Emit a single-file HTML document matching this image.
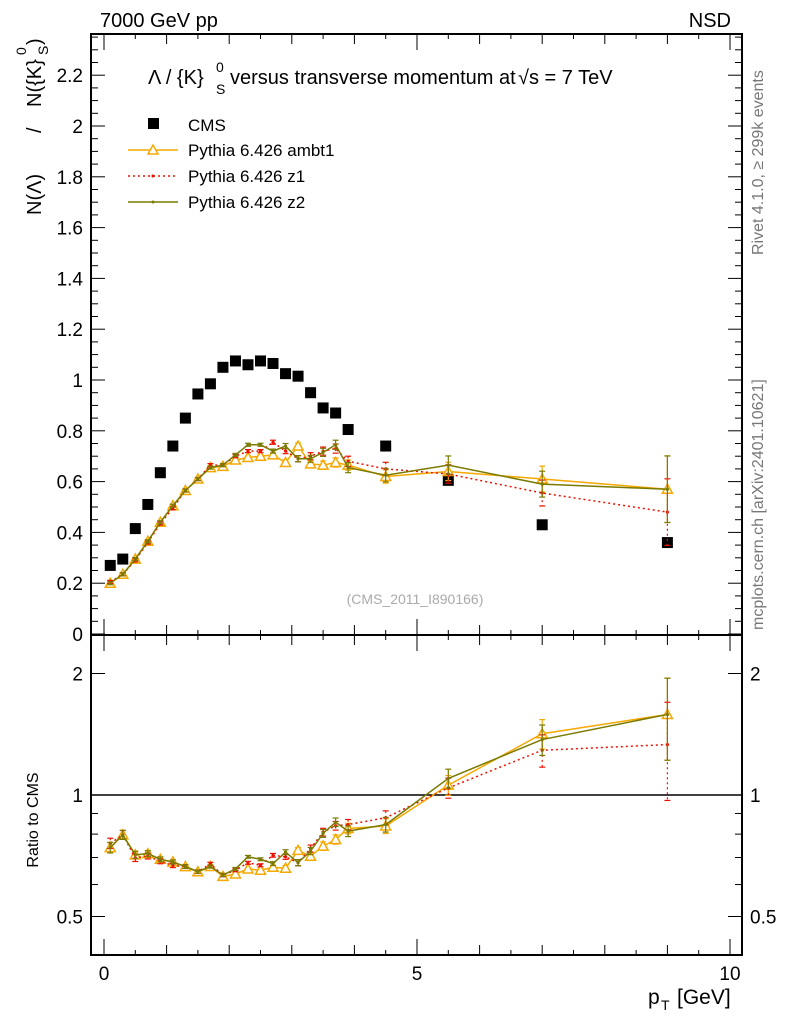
<!DOCTYPE html>
<html><head><meta charset="utf-8"><style>
body{margin:0;background:#fff;}
svg{display:block;font-family:"Liberation Sans",sans-serif;}
</style></head><body>
<svg id="c" width="786" height="1024" xmlns="http://www.w3.org/2000/svg"></svg>
<script>
const pt=[0.1,0.3,0.5,0.7,0.9,1.1,1.3,1.5,1.7,1.9,2.1,2.3,2.5,2.7,2.9,3.1,3.3,3.5,3.7,3.9,4.5,5.5,7.0,9.0];
const cms=[0.27,0.295,0.415,0.51,0.635,0.74,0.85,0.945,0.985,1.05,1.075,1.06,1.075,1.065,1.025,1.015,0.95,0.89,0.87,0.805,0.74,0.605,0.43,0.36];
const ambt1=[0.2,0.235,0.295,0.365,0.44,0.505,0.565,0.61,0.655,0.66,0.685,0.695,0.7,0.705,0.675,0.74,0.67,0.665,0.675,0.665,0.62,0.64,0.61,0.57];
const z1=[0.205,0.235,0.29,0.36,0.435,0.495,0.565,0.61,0.665,0.665,0.7,0.72,0.72,0.755,0.72,0.69,0.7,0.72,0.73,0.68,0.65,0.63,0.555,0.48];
const z2=[0.2,0.235,0.295,0.365,0.44,0.505,0.565,0.61,0.655,0.665,0.705,0.745,0.745,0.72,0.74,0.69,0.69,0.715,0.745,0.655,0.625,0.665,0.59,0.57];
const yTicks=[0,0.2,0.4,0.6,0.8,1,1.2,1.4,1.6,1.8,2,2.2];
const yTickLabels=["0","0.2","0.4","0.6","0.8","1","1.2","1.4","1.6","1.8","2","2.2"];
const xTicks=[0,5,10];
const rTicks=[0.5,1,2];

const S=document.getElementById('c');const NS='http://www.w3.org/2000/svg';
function el(t,a,txt,p){const e=document.createElementNS(NS,t);for(const k in a)e.setAttribute(k,a[k]);if(txt!==undefined)e.textContent=txt;(p||S).appendChild(e);return e;}
const L=91,R=742,T=34,M=635,B=955;
const X=v=>104+v*62.6;
const Y=v=>634-v*254;
const YR=v=>795-Math.log2(v)*121.5;

let e;
e=el('rect',{x:L,y:T,width:R-L,height:M-T,fill:'none',stroke:'#000','stroke-width':2});

e=el('rect',{x:L,y:M,width:R-L,height:B-M,fill:'none',stroke:'#000','stroke-width':2});


for(let v=0;v<=2.35;v+=0.05){const y=Y(v);if(y<T)break;const maj=Math.abs(v*5-Math.round(v*5))<1e-6;
el('line',{x1:L,x2:L+(maj?14:7),y1:y,y2:y,stroke:'#000','stroke-width':1});
el('line',{x1:R,x2:R-(maj?14:7),y1:y,y2:y,stroke:'#000','stroke-width':1});}
yTicks.forEach((v,i)=>{e=el('text',{x:L-8,y:Y(v)+7,'text-anchor':'end','font-size':19},yTickLabels[i]);
});
for(let v=0;v<=10.01;v+=0.5){const x=X(v);const maj=Math.abs(v-Math.round(v/5)*5)<1e-6;const mid=Math.abs(v-Math.round(v))<1e-6;
const len=maj?16:(mid?10:5);
[[M,-1],[T,1],[B,-1],[M,1]].forEach(([y0,d])=>el('line',{x1:x,x2:x,y1:y0,y2:y0+d*len,stroke:'#000','stroke-width':1}));}
xTicks.forEach(v=>{e=el('text',{x:X(v),y:980,'text-anchor':'middle','font-size':19},String(v));
});
[0.4,0.5,0.6,0.7,0.8,0.9,1,2].forEach(v=>{const y=YR(v);if(y>B)return;const maj=rTicks.includes(v);
el('line',{x1:L,x2:L+(maj?14:7),y1:y,y2:y,stroke:'#000'});el('line',{x1:R,x2:R-(maj?14:7),y1:y,y2:y,stroke:'#000'});});
rTicks.forEach(v=>{const y=YR(v)+7;
e=el('text',{x:L-8,y:y,'text-anchor':'end','font-size':19},String(v));
e=el('text',{x:R+8,y:y,'text-anchor':'start','font-size':19},String(v));});
el('line',{x1:L,x2:R,y1:YR(1),y2:YR(1),stroke:'#000','stroke-width':1.5});

e=el('text',{x:100,y:27,'font-size':20},'7000 GeV pp');
e=el('text',{x:731,y:27,'font-size':20,'text-anchor':'end'},'NSD');

const yt=el('g',{transform:'translate(41,215) rotate(-90)'});

el('text',{x:0,y:0,'font-size':20},'N(Λ)',yt);
el('text',{x:82,y:0,'font-size':20},'/',yt);
el('text',{x:108,y:0,'font-size':20},'N({K}',yt);
el('text',{x:160,y:-15,'font-size':14},'0',yt);
el('text',{x:160,y:7,'font-size':14},'S',yt);
el('text',{x:170,y:0,'font-size':20},')',yt);
e=el('text',{x:0,y:0,'font-size':16,transform:'translate(38,820) rotate(-90)','text-anchor':'middle'},'Ratio to CMS');

const xt=el('g',{});
el('text',{x:648,y:1004,'font-size':21},'p',xt);
el('text',{x:661,y:1010,'font-size':14},'T',xt);
el('text',{x:677,y:1004,'font-size':21},'[GeV]',xt);

const tt=el('g',{});
el('text',{x:148,y:84,'font-size':20},'Λ / {K}',tt);
el('text',{x:216,y:72,'font-size':14},'0',tt);
el('text',{x:216,y:94,'font-size':14},'S',tt);
el('text',{x:230,y:84,'font-size':20},'versus transverse momentum at',tt);
el('text',{x:518,y:84,'font-size':20},'√s = 7 TeV',tt);

e=el('text',{x:0,y:0,'font-size':16,fill:'#777',transform:'translate(763,255) rotate(-90)'},'Rivet 4.1.0, ≥ 299k events');
e=el('text',{x:0,y:0,'font-size':16,fill:'#777',transform:'translate(763,630) rotate(-90)'},'mcplots.cern.ch [arXiv:2401.10621]');
e=el('text',{x:415,y:604,'font-size':14,fill:'#aaa','text-anchor':'middle'},'(CMS_2011_I890166)');

e=el('rect',{x:148,y:118,width:11,height:11,fill:'#000'});
el('text',{x:188,y:131,'font-size':17},'CMS');
const series=[{n:'ambt1',d:ambt1,c:'#f5a800',dash:'',lab:'Pythia 6.426 ambt1'},{n:'z1',d:z1,c:'#ee1100',dash:'2,3',lab:'Pythia 6.426 z1'},{n:'z2',d:z2,c:'#7a7a00',dash:'',lab:'Pythia 6.426 z2'}];
series.forEach((s,i)=>{const y=150+i*26;
e=el('line',{x1:128,x2:178,y1:y,y2:y,stroke:s.c,'stroke-width':1.5,'stroke-dasharray':s.dash});
if(i==0)el('path',{d:`M${153-5},${y+4}L153,${y-5}L${153+5},${y+4}Z`,fill:'#fff',stroke:s.c,'stroke-width':1.5});else el('circle',{cx:153,cy:y,r:1.5,fill:s.c});
el('text',{x:188,y:y+6,'font-size':17},s.lab);});

pt.forEach((p,i)=>{e=el('rect',{x:X(p)-5.5,y:Y(cms[i])-5.5,width:11,height:11,fill:'#000'});});

function err(i){return 0.006+0.01*Math.max(0,pt[i]-2.5)+(pt[i]>8?0.06:0);}
series.forEach(s=>{
 const pm=pt.map((p,i)=>X(p)+','+Y(s.d[i])).join(' ');
 e=el('polyline',{points:pm,fill:'none',stroke:s.c,'stroke-width':1.5,'stroke-dasharray':s.dash});
 const pr=pt.map((p,i)=>X(p)+','+YR(s.d[i]/cms[i])).join(' ');
 e=el('polyline',{points:pr,fill:'none',stroke:s.c,'stroke-width':1.5,'stroke-dasharray':s.dash});
 pt.forEach((p,i)=>{const x=X(p),v=s.d[i],er=err(i),r=v/cms[i];
  [[Y(v),Y(v+er),Y(v-er)],[YR(r),YR((v+er)/cms[i]),YR((v-er)/cms[i])]].forEach(([yc,y1,y2])=>{
   el('line',{x1:x,x2:x,y1:y1,y2:y2,stroke:s.c,'stroke-width':1.2,'stroke-dasharray':s.dash});
   el('line',{x1:x-3,x2:x+3,y1:y1,y2:y1,stroke:s.c,'stroke-width':1.2});el('line',{x1:x-3,x2:x+3,y1:y2,y2:y2,stroke:s.c,'stroke-width':1.2});
   let m;
   if(s.n=='ambt1')m=el('path',{d:`M${x-5},${yc+4}L${x},${yc-5}L${x+5},${yc+4}Z`,fill:'#fff',stroke:s.c,'stroke-width':1.5});
   else m=el('circle',{cx:x,cy:yc,r:1.6,fill:s.c});
   
  });});
});
</script>
</body></html>
